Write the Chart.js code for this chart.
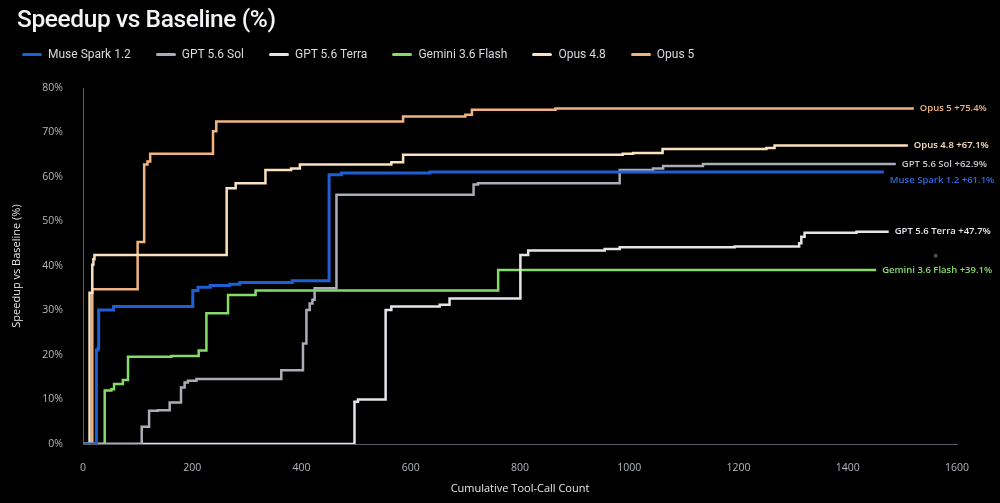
<!DOCTYPE html>
<html>
<head>
<meta charset="utf-8">
<title>Speedup vs Baseline (%)</title>
<script src="https://cdn.jsdelivr.net/npm/chart.js@4.4.1/dist/chart.umd.min.js"></script>
<style>
  html, body { margin: 0; padding: 0; background: #000; overflow: hidden; }
  #wrap { position: relative; width: 1000px; height: 503px; background: #000; }
  #title {
    position: absolute; left: 17px; top: 4px;
    font: 500 24.5px Roboto, "Noto Sans", sans-serif; color: #f4f4f6;
    letter-spacing: -0.4px;
  }
  #legend {
    position: absolute; left: 22px; top: 46px; height: 16px;
    display: flex; align-items: center;
    font: 400 12px Roboto, "Noto Sans", sans-serif; color: #d8dade;
  }
  .item { display: flex; align-items: center; margin-right: 25px; }
  .swatch { width: 20px; height: 3px; border-radius: 2px; margin-right: 6px; }
</style>
</head>
<body>
<div id="wrap">
  <canvas id="chart"></canvas>
  <div id="title">Speedup vs Baseline (%)</div>
  <div id="legend"></div>
</div>
<script>
// series names, in legend order
const seriesNames = ['Muse Spark 1.2', 'GPT 5.6 Sol', 'GPT 5.6 Terra', 'Gemini 3.6 Flash', 'Opus 4.8', 'Opus 5'];

// step points: [cumulative tool calls, speedup %] — value jumps to y at x
const museSpark = [[0, 0], [24.5, 21.1], [27.5, 21.5], [28.7, 30.1], [56, 30.9], [201, 34.5], [210.5, 35.2],
  [233, 35.6], [268.5, 35.9], [287, 36.3], [383, 36.7], [450.5, 60.5], [473, 60.9], [635, 61.1], [1466, 61.1]];
const gptSol = [[0, 0], [107.5, 3.9], [121, 7.5], [137, 7.6], [158.7, 9.3], [179.4, 12.7], [186, 13.8], [192, 14.2],
  [207.6, 14.6], [363, 16.6], [402.7, 22.6], [409, 30.1], [415, 31.6], [420, 32.4], [424, 35.0], [464, 56.0],
  [715, 58.3], [723, 58.6], [982.5, 61.6], [1043.5, 61.9], [1062, 62.5], [1135, 62.9], [1488, 62.9]];
const gptTerra = [[0, 0], [497, 9.5], [503.4, 10.0], [554, 30.1], [564.5, 30.9], [653, 31.3], [671, 32.7],
  [800.7, 42.5], [815, 43.5], [955, 43.8], [982.5, 44.2], [1193, 44.4], [1311, 45.1], [1315, 46.6], [1321, 47.5],
  [1416, 47.7], [1475, 47.7]];
const geminiFlash = [[0, 0], [39.7, 12.0], [52, 12.3], [56.8, 13.5], [73, 14.4], [82.4, 19.6], [161.8, 19.8],
  [211.8, 21.0], [225.9, 29.4], [265.5, 33.5], [316, 34.5], [760, 39.1], [1452, 39.1]];
const opus48 = [[0, 0], [12, 34.0], [17, 40.3], [19, 41.5], [21, 42.5], [263, 57.5], [279.5, 58.6], [334, 61.6],
  [381, 61.9], [397, 62.8], [564.5, 63.3], [586, 65.0], [988, 65.2], [1007, 65.4], [1061, 66.3], [1251, 66.5],
  [1266, 67.1], [1510, 67.1]];
const opus5 = [[0, 0], [17, 34.8], [100, 45.4], [112, 62.8], [118, 63.5], [123, 65.2], [238, 70.3], [244, 72.5],
  [586, 73.6], [700, 74.0], [712, 75.1], [865, 75.4], [1521, 75.4]];
// stray marker near the right edge
const strayPoint = [[1561, 42.3]];

const seriesData = [museSpark, gptSol, gptTerra, geminiFlash, opus48, opus5];

// tick values
const xTicks = [0, 200, 400, 600, 800, 1000, 1200, 1400, 1600];
const yTicks = [0, 10, 20, 30, 40, 50, 60, 70, 80];

// styles
const lineColors = ['#1f5fd4', '#a9adb5', '#e3e5e9', '#86dc69', '#fbe1c0', '#f1b47f'];
const labelColors = ['#2f6be0', '#c4c7cd', '#e3e5e9', '#86dc69', '#fbe1c0', '#f1b47f'];
const lineWidths = [3, 2.5, 2.5, 2.5, 2.5, 2.5];

// html legend
const legend = document.getElementById('legend');
seriesNames.forEach((name, i) => {
  const item = document.createElement('div');
  item.className = 'item';
  const sw = document.createElement('span');
  sw.className = 'swatch';
  sw.style.background = lineColors[i];
  const txt = document.createElement('span');
  txt.textContent = name;
  item.appendChild(sw);
  item.appendChild(txt);
  legend.appendChild(item);
});

// labels at the end of each line, pushed apart when they collide
const endLabels = {
  id: 'endLabels',
  afterDatasetsDraw(chart) {
    const { ctx, scales } = chart;
    const items = chart.data.datasets.filter(d => d.endLabel).map(ds => {
      const last = ds.data[ds.data.length - 1];
      return {
        x: scales.x.getPixelForValue(last.x) + 6,
        y: scales.y.getPixelForValue(last.y),
        text: ds.label + ' +' + last.y.toFixed(1) + '%',
        color: ds.labelColor
      };
    }).sort((a, b) => a.y - b.y);
    let prev = -Infinity;
    items.forEach(it => { it.y = Math.max(it.y, prev + 16); prev = it.y; });
    ctx.save();
    ctx.font = '600 9.5px "Open Sans", sans-serif';
    ctx.textBaseline = 'middle';
    ctx.textAlign = 'left';
    items.forEach(it => {
      ctx.fillStyle = it.color;
      ctx.fillText(it.text, it.x, it.y);
    });
    ctx.restore();
  }
};

const datasets = seriesNames.map((name, i) => ({
  label: name,
  data: seriesData[i].map(p => ({ x: p[0], y: p[1] })),
  borderColor: lineColors[i],
  labelColor: labelColors[i],
  borderWidth: lineWidths[i],
  stepped: 'before',
  pointRadius: 0,
  fill: false,
  endLabel: true
}));
datasets.push({
  label: 'marker',
  data: strayPoint.map(p => ({ x: p[0], y: p[1] })),
  showLine: false,
  pointRadius: 2,
  pointBackgroundColor: '#4d4f52',
  pointBorderWidth: 0
});

const tickFont = { family: '"Open Sans", sans-serif', size: 10.5 };
const titleFont = { family: '"Open Sans", sans-serif', size: 11 };

new Chart(document.getElementById('chart'), {
  type: 'line',
  data: { datasets },
  plugins: [endLabels],
  options: {
    responsive: true,
    maintainAspectRatio: false,
    animation: false,
    layout: { padding: { left: 10, right: 43, top: 88, bottom: 8 } },
    plugins: {
      legend: { display: false },
      tooltip: { enabled: false }
    },
    scales: {
      x: {
        type: 'linear',
        min: 0,
        max: 1600,
        afterBuildTicks: s => { s.ticks = xTicks.map(v => ({ value: v })); },
        grid: { display: false },
        border: { display: true, color: '#5a5e64', width: 1 },
        ticks: { color: '#b3b7bd', font: tickFont, padding: 10, maxRotation: 0, callback: v => String(v) },
        title: { display: true, text: 'Cumulative Tool-Call Count', color: '#e6e7ea', font: titleFont, padding: { top: 10, bottom: 0 } },
        afterFit: s => { s.height = 51; }
      },
      y: {
        min: 0,
        max: 80,
        afterBuildTicks: s => { s.ticks = yTicks.map(v => ({ value: v })); },
        grid: { display: false },
        border: { display: true, color: '#5a5e64', width: 1 },
        ticks: { color: '#b3b7bd', font: tickFont, padding: 12, callback: v => v + '%' },
        title: { display: true, text: 'Speedup vs Baseline (%)', color: '#e6e7ea', font: titleFont, padding: { top: 0, bottom: 4 } },
        afterFit: s => { s.width = 73; }
      }
    }
  }
});
</script>
</body>
</html>
